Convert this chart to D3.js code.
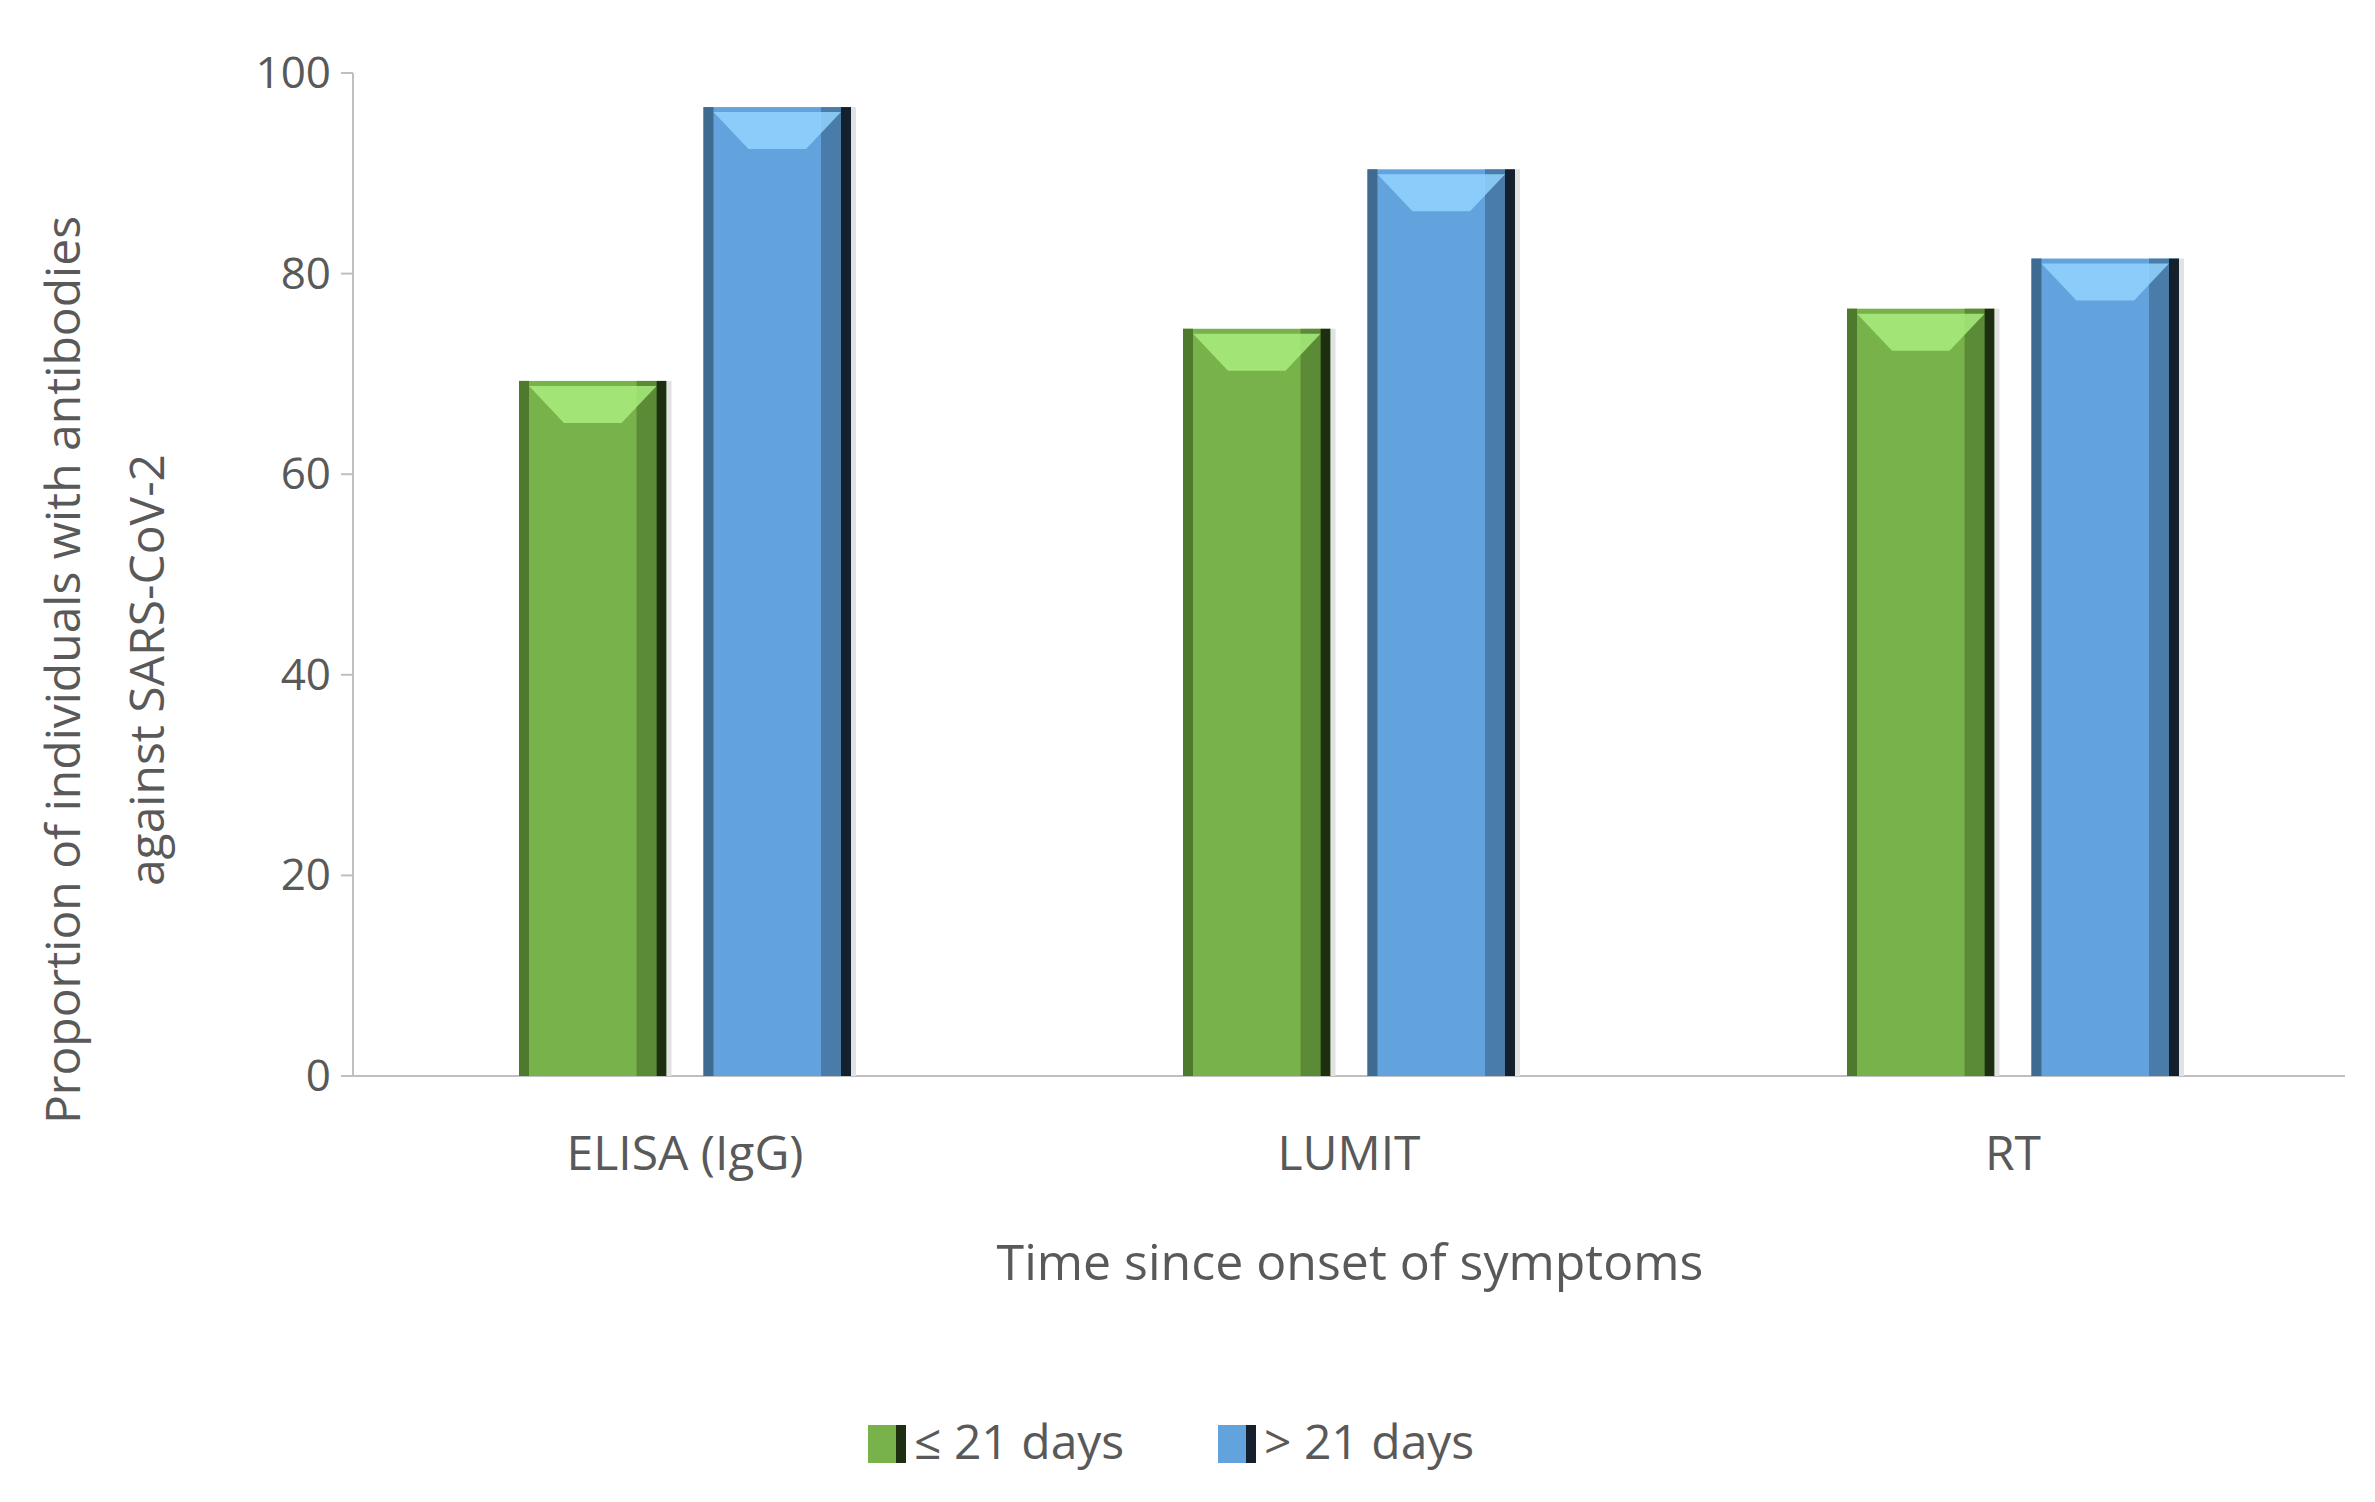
<!DOCTYPE html>
<html><head><meta charset="utf-8">
<script src="https://cdn.jsdelivr.net/npm/d3@7"></script>
<style>body{margin:0;background:#fff}text{font-family:"Open Sans",sans-serif;fill:#595959}</style>
</head><body><svg id="c" width="2375" height="1502"></svg>
<script>
const categories = ['ELISA (IgG)', 'LUMIT', 'RT']
const series = ['≤ 21 days', '> 21 days']
const early = [69.3, 74.5, 76.5]
const late = [96.6, 90.4, 81.5]
const ticks = [0, 20, 40, 60, 80, 100]
const COLORS = [
  {main:'#78b24a', dark:'#4e7a2e', darker:'#1e2e10', light:'#a9ec7c'},
  {main:'#62a3dd', dark:'#3f6b91', darker:'#14202e', light:'#93d4ff'}
]

const svg = d3.select('#c')
const m = {left:353, right:2345, top:73, bottom:1076}
const y = d3.scaleLinear().domain([0,100]).range([m.bottom, m.top])
const x = d3.scaleBand().domain(categories).range([m.left, m.right])
const xs = d3.scaleBand().domain(series).range([0, x.bandwidth()]).paddingInner(0.2).paddingOuter(0.9)

// axes
svg.append('line').attr('x1', m.left).attr('x2', m.left).attr('y1', m.top).attr('y2', m.bottom).attr('stroke', '#bfbfbf').attr('stroke-width', 2)
svg.append('line').attr('x1', m.left).attr('x2', m.right).attr('y1', m.bottom).attr('y2', m.bottom).attr('stroke', '#bfbfbf').attr('stroke-width', 2)
svg.selectAll('.tk').data(ticks).enter().append('line')
  .attr('x1', m.left - 12).attr('x2', m.left).attr('y1', d => y(d)).attr('y2', d => y(d)).attr('stroke', '#bfbfbf').attr('stroke-width', 2)
svg.selectAll('.tl').data(ticks).enter().append('text')
  .attr('x', m.left - 22).attr('y', d => y(d) + 15).attr('text-anchor', 'end').attr('font-size', 44).text(d => d)

categories.forEach((c, i) => {
  [early[i], late[i]].forEach((v, j) => {
    const col = COLORS[j]
    const bx = x(c) + xs(series[j]), bw = xs.bandwidth(), by = y(v), bh = y(0) - y(v)
    const g = svg.append('g')
    g.append('rect').attr('x', bx).attr('y', by).attr('width', bw).attr('height', bh).attr('fill', col.main)
    g.append('rect').attr('x', bx).attr('y', by).attr('width', 10).attr('height', bh).attr('fill', col.dark)
    g.append('rect').attr('x', bx + bw - 30).attr('y', by).attr('width', 20).attr('height', bh).attr('fill', col.dark).attr('opacity', 0.7)
    g.append('rect').attr('x', bx + bw - 10).attr('y', by).attr('width', 10).attr('height', bh).attr('fill', col.darker)
    g.append('path').attr('d', `M${bx+10},${by+5}L${bx+bw-10},${by+5}L${bx+bw-45},${by+42}L${bx+45},${by+42}Z`).attr('fill', col.light).attr('opacity', 0.85)
    g.append('rect').attr('x', bx + bw).attr('y', by).attr('width', 5).attr('height', bh).attr('fill', '#e2e2e2')
  })
  svg.append('text').attr('x', x(c) + x.bandwidth()/2).attr('y', 1170).attr('text-anchor', 'middle').attr('font-size', 48).text(c)
})

svg.append('text').attr('x', 1350).attr('y', 1280).attr('text-anchor', 'middle').attr('font-size', 50).text('Time since onset of symptoms')
const yl = svg.append('text').attr('transform', 'translate(80,670) rotate(-90)').attr('text-anchor', 'middle').attr('font-size', 48)
yl.append('tspan').attr('x', 0).attr('dy', 0).text('Proportion of individuals with antibodies')
yl.append('tspan').attr('x', 0).attr('dy', 84).text('against SARS-CoV-2')

// legend
const lx = [868, 1218]
series.forEach((s, j) => {
  svg.append('rect').attr('x', lx[j]).attr('y', 1425).attr('width', 38).attr('height', 38).attr('fill', COLORS[j].main)
  svg.append('rect').attr('x', lx[j] + 28).attr('y', 1425).attr('width', 10).attr('height', 38).attr('fill', COLORS[j].darker)
  svg.append('text').attr('x', lx[j] + 46).attr('y', 1459).attr('font-size', 48).text(s)
})
</script></body></html>
